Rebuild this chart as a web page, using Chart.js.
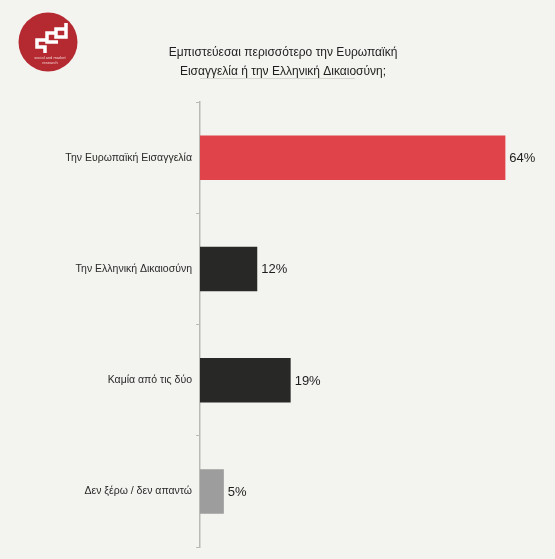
<!DOCTYPE html>
<html>
<head>
<meta charset="utf-8">
<script src="https://cdn.jsdelivr.net/npm/chart.js@4/dist/chart.umd.min.js"></script>
<style>
  html, body { margin: 0; padding: 0; background: #f3f3ef; }
  #wrap { width: 555px; height: 559px; }
</style>
</head>
<body>
<div id="wrap"><canvas id="chart"></canvas></div>
<script>
// data
var categories = ['Την Ευρωπαϊκή Εισαγγελία', 'Την Ελληνική Δικαιοσύνη', 'Καμία από τις δύο', 'Δεν ξέρω / δεν απαντώ'];
var values = [64, 12, 19, 5];
var barColors = ['#e0444a', '#282826', '#282826', '#9d9d9d'];
var titleLines = ['Εμπιστεύεσαι περισσότερο την Ευρωπαϊκή', 'Εισαγγελία ή την Ελληνική Δικαιοσύνη;'];

var FONT = '"Liberation Sans", Arial, sans-serif';

// background, title and logo
var decor = {
  id: 'decor',
  beforeDraw: function (chart) {
    var c = chart.ctx;
    c.save();
    c.fillStyle = '#f3f3ef';
    c.fillRect(0, 0, chart.width, chart.height);

    // logo
    c.fillStyle = '#b52a30';
    c.beginPath();
    c.arc(48, 42, 29.5, 0, Math.PI * 2);
    c.fill();
    c.strokeStyle = '#ffffff';
    c.lineWidth = 3.5;
    c.lineJoin = 'miter';
    c.beginPath();
    c.moveTo(46, 40); c.lineTo(37, 40); c.lineTo(37, 47); c.lineTo(45, 47); c.lineTo(45, 53);
    c.stroke();
    c.beginPath();
    c.moveTo(56, 33); c.lineTo(47, 33); c.lineTo(47, 42); c.lineTo(58, 42);
    c.stroke();
    c.beginPath();
    c.moveTo(66, 23); c.lineTo(66, 37); c.lineTo(56, 37); c.lineTo(56, 29); c.lineTo(65, 29);
    c.stroke();
    c.fillStyle = '#f2d0d0';
    c.font = '4px ' + FONT;
    c.textAlign = 'center';
    c.textBaseline = 'middle';
    c.fillText('social and market', 50, 58);
    c.fillText('research', 50, 63);

    // title
    c.fillStyle = '#1e1e1e';
    c.font = '12px ' + FONT;
    c.fillText(titleLines[0], 283, 53);
    c.fillText(titleLines[1], 283, 72);
    c.strokeStyle = '#d6d6d2';
    c.lineWidth = 1;
    c.beginPath();
    c.moveTo(200, 78.5); c.lineTo(355, 78.5);
    c.stroke();

    // small hook at the top of the axis
    c.strokeStyle = '#b9b9b6';
    c.lineWidth = 1;
    c.beginPath();
    c.moveTo(196, 102.5); c.lineTo(200, 102.5);
    c.stroke();
    c.restore();
  },
  afterDatasetsDraw: function (chart) {
    var c = chart.ctx;
    var meta = chart.getDatasetMeta(0);
    c.save();
    c.fillStyle = '#1e1e1e';
    c.font = '13px ' + FONT;
    c.textAlign = 'left';
    c.textBaseline = 'middle';
    meta.data.forEach(function (bar, i) {
      c.fillText(values[i] + '%', bar.x + 4, bar.y + 1);
    });
    c.restore();
  }
};

new Chart(document.getElementById('chart'), {
  type: 'bar',
  data: {
    labels: categories,
    datasets: [{
      data: values,
      backgroundColor: barColors,
      borderWidth: 0,
      categoryPercentage: 1,
      barPercentage: 0.4
    }]
  },
  options: {
    indexAxis: 'y',
    responsive: true,
    maintainAspectRatio: false,
    animation: false,
    layout: { padding: { top: 102, bottom: 12, right: 21, left: 0 } },
    plugins: {
      legend: { display: false },
      tooltip: { enabled: false }
    },
    scales: {
      x: { display: false, min: 0, max: 70 },
      y: {
        afterFit: function (scale) { scale.width = 200; },
        border: { color: '#b9b9b6', width: 1.5 },
        grid: { drawOnChartArea: false, drawTicks: true, tickLength: 4, color: '#b9b9b6', offset: true },
        ticks: { color: '#2a2a2a', padding: 4, font: { family: FONT, size: 10.5 } }
      }
    }
  },
  plugins: [decor]
});
</script>
</body>
</html>
